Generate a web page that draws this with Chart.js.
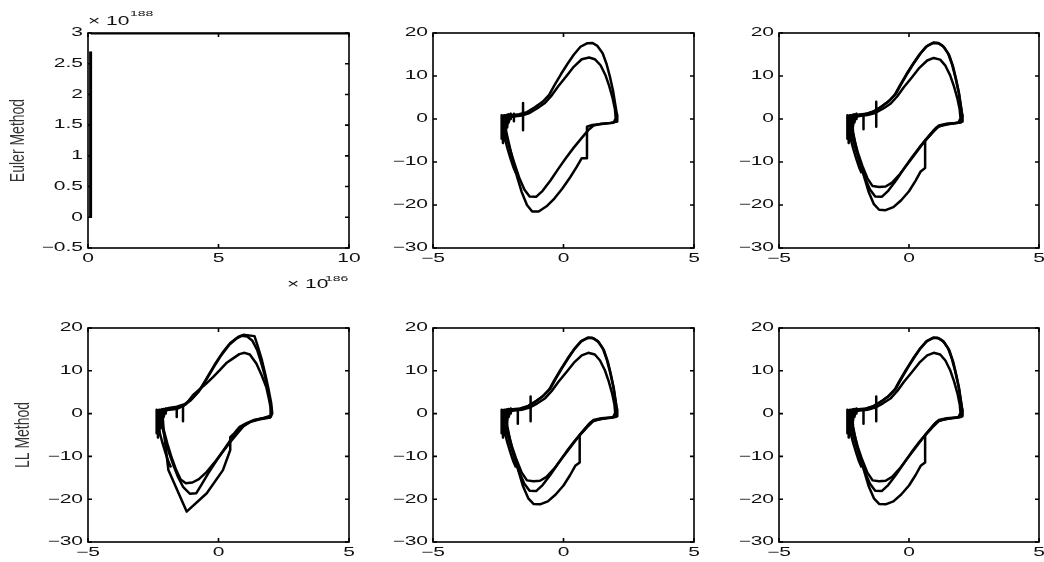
<!DOCTYPE html>
<html>
<head>
<meta charset="utf-8">
<script src="https://cdn.jsdelivr.net/npm/chart.js@4.4.0/dist/chart.umd.min.js"></script>
<style>
  html, body { margin: 0; padding: 0; background: #fff; }
  #wrap { position: relative; width: 1044px; height: 562px; }
  #wrap canvas { position: absolute; left: 0; top: 0; }
</style>
</head>
<body>
<div id="wrap">
  <canvas id="p1" width="1044" height="562"></canvas>
  <canvas id="p2" width="1044" height="562"></canvas>
  <canvas id="p3" width="1044" height="562"></canvas>
  <canvas id="p4" width="1044" height="562"></canvas>
  <canvas id="p5" width="1044" height="562"></canvas>
  <canvas id="p6" width="1044" height="562"></canvas>
</div>
<script>
const W = 1044, H = 562;

// tick labels
const eulerXTicks = [0, 5, 10];
const eulerYTicks = [-0.5, 0, 0.5, 1, 1.5, 2, 2.5, 3];
const curveXTicks = [-5, 0, 5];
const curveYTicks = [-30, -20, -10, 0, 10, 20];

// Euler method blow-up (x 1e186, y 1e188)
const eulerRise = [[0.1, 0], [0.1, 2.7]];
const eulerTop = [[0.1, 3], [10, 3]];

// limit cycle loops (x, y)
const loopA = [[-2.3,0.4],[-2.0,0.9],[-1.7,1.1],[-1.4,1.6],[-1.1,2.7],[-0.8,4.0],[-0.55,5.6],[-0.35,7.8],[-0.1,10.4],[0.15,12.8],[0.4,15.0],[0.65,16.8],[0.9,17.6],[1.1,17.7],[1.3,17.0],[1.5,15.3],[1.65,12.8],[1.78,9.8],[1.9,6.5],[1.98,3.5],[2.05,1.0],[2.06,-0.6],[1.8,-0.9],[1.45,-1.1],[1.15,-1.5],[0.95,-2.6],[0.7,-4.4],[0.4,-6.6],[0.1,-9.0],[-0.2,-11.6],[-0.5,-14.3],[-0.8,-16.7],[-1.05,-18.1],[-1.3,-18.0],[-1.5,-16.4],[-1.7,-13.6],[-1.88,-10.3],[-2.05,-7.0],[-2.2,-3.8],[-2.3,-1.0],[-2.3,0.4]];

const loopB = [[-2.2,0.3],[-1.9,0.7],[-1.6,0.9],[-1.3,1.4],[-1.0,2.4],[-0.7,3.6],[-0.45,5.3],[-0.2,7.4],[0.1,9.6],[0.4,11.9],[0.7,13.6],[0.95,14.2],[1.2,13.8],[1.4,12.4],[1.58,10.2],[1.73,7.6],[1.86,4.8],[1.95,2.2],[1.98,0.2],[1.9,-0.9],[1.5,-1.2],[1.15,-1.7],[0.95,-2.9],[0.75,-4.2],[0.62,-5.0],[0.62,-11.4],[0.45,-12.2],[0.25,-14.4],[0.0,-16.8],[-0.3,-18.9],[-0.6,-20.5],[-0.9,-21.2],[-1.15,-21.1],[-1.35,-19.8],[-1.55,-17.0],[-1.72,-13.5],[-1.9,-9.8],[-2.05,-6.2],[-2.15,-3.0],[-2.2,0.3]];

const loopC = [[-2.25,0.6],[-1.95,1.0],[-1.65,1.2],[-1.35,1.8],[-1.05,2.9],[-0.75,4.3],[-0.5,5.9],[-0.3,8.1],[-0.05,10.7],[0.2,13.1],[0.45,15.3],[0.7,17.0],[0.95,17.8],[1.15,17.6],[1.35,16.7],[1.55,14.8],[1.7,12.1],[1.82,9.0],[1.93,5.8],[2.0,2.8],[2.04,0.5],[2.0,-0.8],[1.7,-1.0],[1.35,-1.3],[1.05,-2.0],[0.85,-3.4],[0.55,-5.6],[0.25,-8.0],[-0.05,-10.4],[-0.35,-12.8],[-0.65,-14.8],[-0.9,-15.7],[-1.15,-15.8],[-1.4,-15.6],[-1.6,-13.8],[-1.8,-10.8],[-1.98,-7.6],[-2.12,-4.4],[-2.22,-1.6],[-2.25,0.6]];

// second Euler panel: inner loop steps down at x = 0.9
const loopB2 = [[-2.25,0.2],[-1.9,0.6],[-1.6,0.8],[-1.3,1.4],[-1.0,2.5],[-0.7,3.8],[-0.45,5.5],[-0.2,7.6],[0.1,9.9],[0.4,12.2],[0.7,13.9],[0.98,14.3],[1.2,13.9],[1.42,12.5],[1.6,10.3],[1.75,7.7],[1.88,4.9],[1.97,2.3],[2.0,0.2],[1.92,-0.9],[1.55,-1.1],[1.1,-1.4],[0.9,-1.8],[0.9,-9.1],[0.7,-9.1],[0.5,-11.2],[0.25,-13.6],[-0.05,-16.2],[-0.35,-18.5],[-0.65,-20.3],[-0.95,-21.5],[-1.2,-21.5],[-1.4,-20.0],[-1.6,-17.0],[-1.78,-13.4],[-1.93,-10.0],[-2.08,-6.0],[-2.2,-2.8],[-2.25,0.2]];

// first LL panel
const llLoopA = [[-2.2,0.8],[-1.9,1.3],[-1.6,1.6],[-1.3,2.2],[-1.0,3.6],[-0.72,5.5],[-0.45,8.3],[-0.15,11.4],[0.15,14.2],[0.45,16.5],[0.75,17.9],[0.95,18.4],[1.38,18.1],[1.5,15.8],[1.65,12.8],[1.8,9.0],[1.92,5.6],[2.02,2.4],[2.06,0.0],[2.0,-0.8],[1.6,-1.2],[1.3,-1.7],[1.0,-2.6],[0.75,-4.0],[0.5,-5.8],[0.2,-8.5],[-0.1,-11.2],[-0.4,-14.0],[-0.65,-16.6],[-0.85,-18.6],[-1.1,-18.7],[-1.35,-17.2],[-1.55,-14.8],[-1.72,-12.2],[-1.88,-9.4],[-2.02,-6.4],[-2.15,-3.2],[-2.2,0.8]];

const llLoopB = [[-2.15,0.5],[-1.85,1.0],[-1.55,1.2],[-1.25,2.2],[-0.98,4.3],[-0.7,5.8],[-0.47,7.0],[-0.2,8.6],[0.04,10.1],[0.3,11.8],[0.56,12.9],[0.8,13.9],[1.0,14.2],[1.2,13.8],[1.45,11.7],[1.65,9.0],[1.83,6.2],[1.93,3.5],[1.99,1.6],[2.0,-0.5],[1.7,-1.1],[1.35,-1.5],[1.06,-2.3],[0.81,-3.1],[0.6,-4.6],[0.45,-5.5],[0.45,-8.5],[0.17,-13.2],[-0.45,-18.6],[-1.22,-22.9],[-1.92,-13.2],[-2.0,-9.0],[-2.1,-4.0],[-2.15,0.5]];

const llLoopC = [[-2.25,0.4],[-1.95,0.9],[-1.65,1.1],[-1.35,1.8],[-1.05,3.2],[-0.78,5.0],[-0.5,7.6],[-0.2,10.7],[0.1,13.6],[0.4,16.0],[0.7,17.6],[0.9,18.2],[1.1,18.0],[1.3,17.0],[1.48,14.9],[1.62,12.2],[1.76,9.2],[1.88,6.0],[1.98,2.8],[2.04,0.6],[1.98,-0.9],[1.55,-1.4],[1.2,-2.0],[0.95,-3.0],[0.7,-4.8],[0.43,-6.8],[0.15,-9.0],[-0.15,-11.4],[-0.45,-13.6],[-0.75,-15.3],[-1.0,-16.1],[-1.25,-16.3],[-1.45,-15.4],[-1.62,-13.2],[-1.8,-10.2],[-1.96,-7.0],[-2.1,-3.8],[-2.22,-1.2],[-2.25,0.4]];

// jitter near the left turning point and small spikes
const leftKnot = [[-2.37,0.9],[-2.37,-4.6],[-2.32,0.7],[-2.32,-5.6],[-2.27,0.9],[-2.27,-5.0],[-2.22,0.9],[-2.22,-3.4],[-2.16,1.0],[-2.16,-2.0],[-2.1,1.1],[-2.1,-0.8],[-2.02,1.2],[-2.02,0.0]];
const leftBand = [[-2.27,-4.0],[-2.15,-6.8],[-2.03,-9.2],[-1.92,-11.2],[-1.82,-12.6]];
const spikeEuler1 = [[-1.55,3.7],[-1.55,-2.6]];
const spikeEuler2 = [[-1.9,1.2],[-1.9,-0.5]];
const spikeMain1 = [[-1.26,4.0],[-1.26,-1.8]];
const spikeMain2 = [[-1.75,1.0],[-1.75,-2.4]];
const spikeLL1 = [[-1.36,1.8],[-1.36,-1.8]];
const spikeLL2 = [[-1.6,1.5],[-1.6,-0.8]];

const TEXT_STRETCH = 1.75;
const FONT = '"Liberation Sans", Arial, sans-serif';
const TICK = 4;

function fmt(v) {
    return String(v).replace('-', '\u2212');
}

function stretchText(ctx, text, x, y, align, size) {
    ctx.save();
    ctx.font = size + 'px ' + FONT;
    ctx.textBaseline = 'middle';
    ctx.textAlign = 'left';
    const w = ctx.measureText(text).width * TEXT_STRETCH;
    const left = align === 'right' ? x - w : (align === 'center' ? x - w / 2 : x);
    ctx.translate(left, y);
    ctx.scale(TEXT_STRETCH, 1);
    ctx.fillText(text, 0, 0);
    ctx.restore();
}

function matlabAxes(cfg) {
    return {
        id: 'matlabAxes',
        afterDatasetsDraw(chart) {
            const ctx = chart.ctx;
            const a = chart.chartArea;
            const xs = chart.scales.x, ys = chart.scales.y;
            ctx.save();
            ctx.strokeStyle = '#000';
            ctx.lineWidth = 1.6;
            ctx.strokeRect(a.left, a.top, a.right - a.left, a.bottom - a.top);
            ctx.beginPath();
            cfg.xTicks.forEach(v => {
                const px = xs.getPixelForValue(v);
                ctx.moveTo(px, a.bottom); ctx.lineTo(px, a.bottom - TICK);
                ctx.moveTo(px, a.top); ctx.lineTo(px, a.top + TICK);
            });
            cfg.yTicks.forEach(v => {
                const py = ys.getPixelForValue(v);
                ctx.moveTo(a.left, py); ctx.lineTo(a.left + TICK, py);
                ctx.moveTo(a.right, py); ctx.lineTo(a.right - TICK, py);
            });
            ctx.stroke();

            ctx.fillStyle = '#111';
            cfg.xTicks.forEach(v => stretchText(ctx, fmt(v), xs.getPixelForValue(v), a.bottom + 11, 'center', 12));
            cfg.yTicks.forEach(v => stretchText(ctx, fmt(v), a.left - 5, ys.getPixelForValue(v), 'right', 12));

            if (cfg.yTitle) {
                ctx.save();
                ctx.translate(a.left + cfg.titleDx, (a.top + a.bottom) / 2);
                ctx.scale(1.4, 1);
                ctx.rotate(-Math.PI / 2);
                ctx.font = '14px ' + FONT;
                ctx.textAlign = 'center';
                ctx.textBaseline = 'middle';
                ctx.fillStyle = '#333';
                ctx.fillText(cfg.yTitle, 0, 0);
                ctx.restore();
            }
            if (cfg.exponents) {
                // x 10^188 above the y axis, x 10^186 below the x axis
                stretchText(ctx, '\u00d7 10', a.left, a.top - 11, 'left', 12);
                stretchText(ctx, cfg.exponents[0], a.left + 42, a.top - 19, 'left', 8);
                stretchText(ctx, '\u00d7 10', a.right - 62, a.bottom + 37, 'left', 12);
                stretchText(ctx, cfg.exponents[1], a.right - 24, a.bottom + 31, 'left', 8);
            }
            ctx.restore();
        }
    };
}

function makePanel(id, box, xTicks, yTicks, lines, extra) {
    const cfg = Object.assign({ xTicks, yTicks }, extra || {});
    return new Chart(document.getElementById(id), {
        type: 'scatter',
        data: {
            datasets: lines.map(l => ({
                data: l.pts.map(p => ({ x: p[0], y: p[1] })),
                showLine: true,
                borderColor: '#000',
                borderWidth: l.w || 2.5,
                borderJoinStyle: 'round',
                pointRadius: 0,
                tension: 0,
                fill: false
            }))
        },
        options: {
            responsive: false,
            animation: false,
            events: [],
            layout: { padding: { left: box[0], top: box[1], right: W - box[2], bottom: H - box[3] } },
            scales: {
                x: { type: 'linear', display: false, min: xTicks[0], max: xTicks[xTicks.length - 1] },
                y: { type: 'linear', display: false, min: yTicks[0], max: yTicks[yTicks.length - 1] }
            },
            plugins: { legend: { display: false }, tooltip: { enabled: false } }
        },
        plugins: [matlabAxes(cfg)]
    });
}

makePanel('p1', [88, 33, 349, 248], eulerXTicks, eulerYTicks,
    [{ pts: eulerRise, w: 3 }, { pts: eulerTop, w: 3 }],
    { yTitle: 'Euler Method', titleDx: -69, exponents: ['188', '186'] });

makePanel('p2', [433, 33, 694, 248], curveXTicks, curveYTicks,
    [{ pts: loopA }, { pts: loopB2 }, { pts: leftKnot }, { pts: leftBand }, { pts: spikeEuler1 }, { pts: spikeEuler2 }]);

makePanel('p3', [779, 33, 1039, 248], curveXTicks, curveYTicks,
    [{ pts: loopA }, { pts: loopB }, { pts: loopC }, { pts: leftKnot }, { pts: leftBand }, { pts: spikeMain1 }, { pts: spikeMain2 }]);

makePanel('p4', [88, 328, 349, 542], curveXTicks, curveYTicks,
    [{ pts: llLoopA }, { pts: llLoopB }, { pts: llLoopC }, { pts: leftKnot }, { pts: leftBand }, { pts: spikeLL1 }, { pts: spikeLL2 }],
    { yTitle: 'LL Method', titleDx: -64 });

makePanel('p5', [433, 328, 694, 542], curveXTicks, curveYTicks,
    [{ pts: loopA }, { pts: loopB }, { pts: loopC }, { pts: leftKnot }, { pts: leftBand }, { pts: spikeMain1 }, { pts: spikeMain2 }]);

makePanel('p6', [779, 328, 1039, 542], curveXTicks, curveYTicks,
    [{ pts: loopA }, { pts: loopB }, { pts: loopC }, { pts: leftKnot }, { pts: leftBand }, { pts: spikeMain1 }, { pts: spikeMain2 }]);
</script>
</body>
</html>
